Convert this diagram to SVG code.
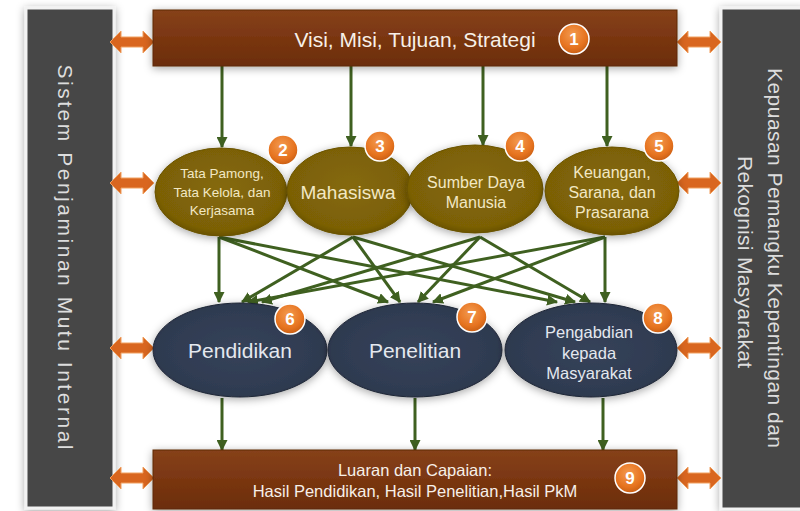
<svg xmlns="http://www.w3.org/2000/svg" width="800" height="511" viewBox="0 0 800 511">
<defs>
  <linearGradient id="gBar" x1="0" y1="0" x2="0" y2="1">
    <stop offset="0" stop-color="#86411a"/>
    <stop offset="0.5" stop-color="#7a3611"/>
    <stop offset="1" stop-color="#6b2d0b"/>
  </linearGradient>
  <radialGradient id="gOlive" cx="0.5" cy="0.45" r="0.6">
    <stop offset="0" stop-color="#85690a"/>
    <stop offset="0.8" stop-color="#7b6006"/>
    <stop offset="1" stop-color="#5f4a04"/>
  </radialGradient>
  <radialGradient id="gBlue" cx="0.5" cy="0.5" r="0.6">
    <stop offset="0" stop-color="#36435a"/>
    <stop offset="0.8" stop-color="#2e3a50"/>
    <stop offset="1" stop-color="#222b3c"/>
  </radialGradient>
  <radialGradient id="gBadge" cx="0.45" cy="0.35" r="0.65">
    <stop offset="0" stop-color="#f39a4f"/>
    <stop offset="0.7" stop-color="#e6731f"/>
    <stop offset="1" stop-color="#c95f14"/>
  </radialGradient>
  <filter id="shadow" x="-20%" y="-30%" width="140%" height="160%">
    <feDropShadow dx="0" dy="2" stdDeviation="4" flood-color="#000" flood-opacity="0.35"/>
  </filter>
  <marker id="ah" viewBox="0 0 10 10" refX="9" refY="5" markerUnits="userSpaceOnUse" markerWidth="11" markerHeight="11" orient="auto">
    <path d="M0,0 L10,5 L0,10 Z" fill="#3f6020"/>
  </marker>
  <path id="dbl" d="M0,0 L11,-11 L11,-5 L33,-5 L33,-11 L44,0 L33,11 L33,5 L11,5 L11,11 Z"/>
</defs>
<style>
  .panel { fill: #474747; stroke: #f2f2f2; stroke-width: 3; }
  .bar { fill: url(#gBar); stroke: #5e2809; stroke-width: 1; }
  .olive { fill: url(#gOlive); stroke: #6a5305; stroke-width: 1; }
  .blue { fill: url(#gBlue); stroke: #1f2736; stroke-width: 1; }
  .badge { fill: url(#gBadge); stroke: #ffffff; stroke-width: 1.5; }
  .bnum { font-family: "Liberation Sans", Arial, sans-serif; font-weight: bold; font-size: 17px; fill: #ffffff; text-anchor: middle; }
  .dbl { fill: #d9661f; stroke: #f0a060; stroke-width: 1; }
  .conn line { stroke: #3f6020; stroke-width: 3; marker-end: url(#ah); }
  .t { font-family: "Liberation Sans", Arial, sans-serif; text-anchor: middle; }
  .tw { fill: #f7f0e8; }
  .to { fill: #f2e8c4; }
  .tb { fill: #e4e8ef; }
  .side { font-family: "Liberation Sans", Arial, sans-serif; font-size: 21px; fill: #dddddd; text-anchor: middle; }
</style>
<rect width="800" height="511" fill="#ffffff"/>

<g id="panel-left">
  <rect class="panel" x="26" y="8" width="88" height="500" filter="url(#shadow)"/>
  <text class="side" transform="translate(58,257) rotate(90)" textLength="385" lengthAdjust="spacing">Sistem Penjaminan Mutu Internal</text>
</g>
<g id="panel-right">
  <rect class="panel" x="721" y="8" width="84" height="501" filter="url(#shadow)"/>
  <text class="side" transform="translate(768,258) rotate(90)" textLength="380" lengthAdjust="spacing">Kepuasan Pemangku Kepentingan dan</text>
  <text class="side" transform="translate(738,262) rotate(90)" textLength="212" lengthAdjust="spacing">Rekognisi Masyarakat</text>
</g>

<g id="double-arrows">
  <use href="#dbl" class="dbl" transform="translate(110,42)"/>
  <use href="#dbl" class="dbl" transform="translate(677,42)"/>
  <use href="#dbl" class="dbl" transform="translate(110,183)"/>
  <use href="#dbl" class="dbl" transform="translate(677,183)"/>
  <use href="#dbl" class="dbl" transform="translate(110,348)"/>
  <use href="#dbl" class="dbl" transform="translate(677,348)"/>
  <use href="#dbl" class="dbl" transform="translate(110,478)"/>
  <use href="#dbl" class="dbl" transform="translate(677,478)"/>
</g>

<g id="connectors" class="conn">
  <line x1="222" y1="66" x2="222" y2="147"/>
  <line x1="351" y1="66" x2="351" y2="146"/>
  <line x1="483" y1="66" x2="483" y2="145"/>
  <line x1="607" y1="66" x2="607" y2="146"/>

  <line x1="219" y1="237" x2="219" y2="302"/>
  <line x1="219" y1="237" x2="388" y2="302"/>
  <line x1="219" y1="237" x2="557" y2="302"/>
  <line x1="353" y1="237" x2="242" y2="302"/>
  <line x1="353" y1="237" x2="400" y2="302"/>
  <line x1="353" y1="237" x2="575" y2="302"/>
  <line x1="480" y1="237" x2="262" y2="302"/>
  <line x1="480" y1="237" x2="418" y2="302"/>
  <line x1="480" y1="237" x2="590" y2="302"/>
  <line x1="605" y1="237" x2="248" y2="302"/>
  <line x1="605" y1="237" x2="433" y2="302"/>
  <line x1="605" y1="237" x2="605" y2="302"/>

  <line x1="222" y1="398" x2="222" y2="450"/>
  <line x1="415" y1="398" x2="415" y2="450"/>
  <line x1="603" y1="398" x2="603" y2="450"/>
</g>

<g id="n1">
  <rect class="bar" x="153" y="10" width="524" height="56" filter="url(#shadow)"/>
  <text class="t tw" x="415" y="47" font-size="21">Visi, Misi, Tujuan, Strategi</text>
  <circle class="badge" cx="574" cy="39" r="15"/>
  <text class="bnum" x="574" y="45">1</text>
</g>

<g id="n2">
  <ellipse class="olive" cx="221" cy="192" rx="66" ry="44" filter="url(#shadow)"/>
  <text class="t to" font-size="13.5"><tspan x="222" y="178">Tata Pamong,</tspan><tspan x="222" y="197">Tata Kelola, dan</tspan><tspan x="222" y="215">Kerjasama</tspan></text>
  <circle class="badge" cx="283" cy="150" r="15"/>
  <text class="bnum" x="283" y="156">2</text>
</g>
<g id="n3">
  <ellipse class="olive" cx="350" cy="191" rx="63" ry="44" filter="url(#shadow)"/>
  <text class="t to" x="348" y="199" font-size="19">Mahasiswa</text>
  <circle class="badge" cx="380" cy="146" r="15"/>
  <text class="bnum" x="380" y="152">3</text>
</g>
<g id="n4">
  <ellipse class="olive" cx="475" cy="189" rx="68" ry="44" filter="url(#shadow)"/>
  <text class="t to" font-size="16"><tspan x="476" y="188">Sumber Daya</tspan><tspan x="476" y="208">Manusia</tspan></text>
  <circle class="badge" cx="520" cy="146" r="15"/>
  <text class="bnum" x="520" y="152">4</text>
</g>
<g id="n5">
  <ellipse class="olive" cx="612" cy="191" rx="67" ry="44" filter="url(#shadow)"/>
  <text class="t to" font-size="16"><tspan x="612" y="178">Keuangan,</tspan><tspan x="612" y="198">Sarana, dan</tspan><tspan x="612" y="218">Prasarana</tspan></text>
  <circle class="badge" cx="659" cy="146" r="15"/>
  <text class="bnum" x="659" y="152">5</text>
</g>

<g id="n6">
  <ellipse class="blue" cx="240" cy="350" rx="87" ry="47" filter="url(#shadow)"/>
  <text class="t tb" x="240" y="358" font-size="21">Pendidikan</text>
  <circle class="badge" cx="290" cy="319" r="15"/>
  <text class="bnum" x="290" y="325">6</text>
</g>
<g id="n7">
  <ellipse class="blue" cx="415" cy="350" rx="87" ry="47" filter="url(#shadow)"/>
  <text class="t tb" x="415" y="358" font-size="21">Penelitian</text>
  <circle class="badge" cx="472" cy="317" r="15"/>
  <text class="bnum" x="472" y="323">7</text>
</g>
<g id="n8">
  <ellipse class="blue" cx="591" cy="350" rx="86" ry="47" filter="url(#shadow)"/>
  <text class="t tb" font-size="16.5"><tspan x="589" y="338">Pengabdian</tspan><tspan x="589" y="359">kepada</tspan><tspan x="589" y="379">Masyarakat</tspan></text>
  <circle class="badge" cx="658" cy="318" r="15"/>
  <text class="bnum" x="658" y="324">8</text>
</g>

<g id="n9">
  <rect class="bar" x="153" y="450" width="524" height="59" filter="url(#shadow)"/>
  <text class="t tw" font-size="16.5"><tspan x="415" y="476">Luaran dan Capaian:</tspan><tspan x="415" y="497">Hasil Pendidikan, Hasil Penelitian,Hasil PkM</tspan></text>
  <circle class="badge" cx="630" cy="478" r="15"/>
  <text class="bnum" x="630" y="484">9</text>
</g>
</svg>
